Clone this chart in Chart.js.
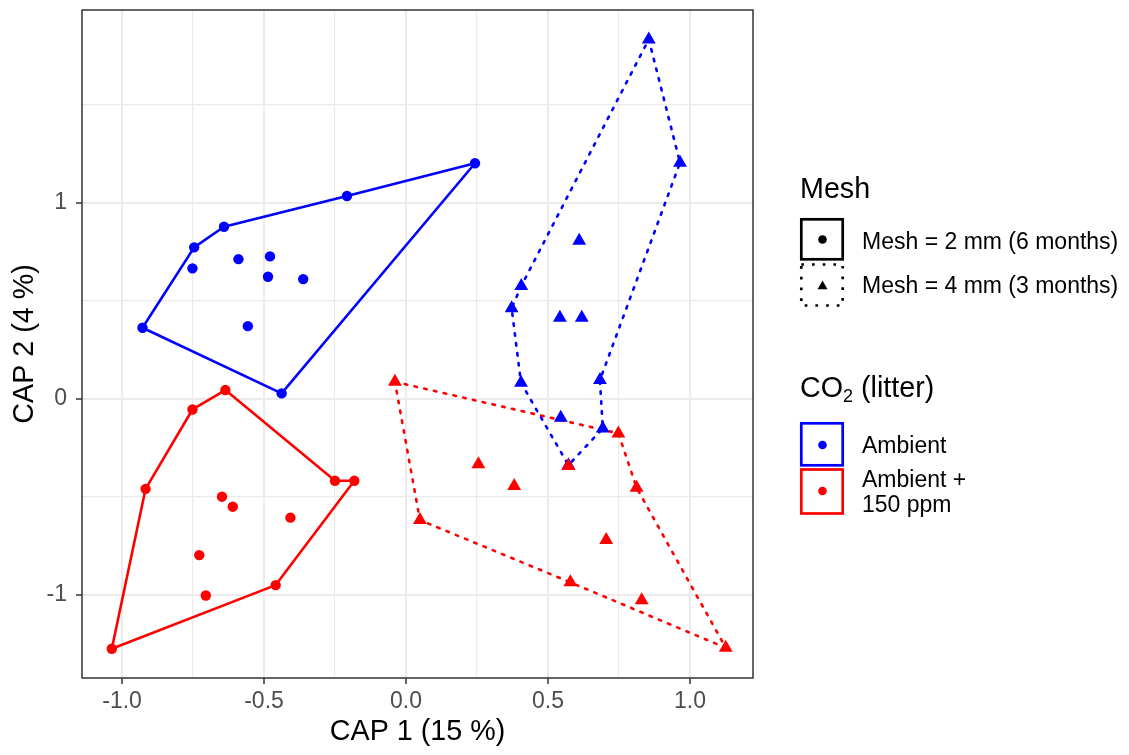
<!DOCTYPE html>
<html>
<head>
<meta charset="utf-8">
<script src="https://cdn.jsdelivr.net/npm/chart.js@4"></script>
<style>
html, body { margin: 0; padding: 0; background: #fff; }
#lienzo { position: relative; width: 1129px; height: 755px; }
#grafica, #leyenda { position: absolute; left: 0; top: 0; }
</style>
</head>
<body>
<div id="lienzo">
<canvas id="grafica" width="1129" height="755"></canvas>
<svg id="leyenda" width="1129" height="755" xmlns="http://www.w3.org/2000/svg">
  <g font-family="'Liberation Sans', Arial, sans-serif" fill="#000">
    <text x="800" y="198" font-size="28.7">Mesh</text>
    <rect x="801.3" y="219.3" width="41.4" height="40" fill="#fff" stroke="#000" stroke-width="2.7"/>
    <circle cx="822.5" cy="239.5" r="4.3"/>
    <rect x="801.3" y="264.5" width="41.4" height="41" fill="#fff" stroke="#000" stroke-width="2.7" stroke-dasharray="2.7 8"/>
    <polygon points="822.5,280.5 827.5,289.3 817.5,289.3"/>
    <text x="862" y="249" font-size="23">Mesh = 2 mm (6 months)</text>
    <text x="862" y="293" font-size="23">Mesh = 4 mm (3 months)</text>

    <text x="800" y="397" font-size="28.7">CO<tspan font-size="18" dy="5">2</tspan><tspan dy="-5"> (litter)</tspan></text>
    <rect x="801.3" y="423.3" width="41.4" height="42" fill="#fff" stroke="#0000FF" stroke-width="2.7"/>
    <circle cx="822.5" cy="445" r="4.3" fill="#0000FF"/>
    <rect x="801.3" y="469.5" width="41.4" height="44" fill="#fff" stroke="#FF0000" stroke-width="2.7"/>
    <circle cx="822.5" cy="491" r="4.3" fill="#FF0000"/>
    <text x="862" y="453" font-size="23">Ambient</text>
    <text x="862" y="487" font-size="23">Ambient +</text>
    <text x="862" y="512" font-size="23">150 ppm</text>
  </g>
</svg>
</div>
<script>
// Ejes
const ejeXMayores = [-1, -0.5, 0, 0.5, 1];
const ejeXMenores = [-0.75, -0.25, 0.25, 0.75];
const ejeXEtiquetas = ['-1.0', '-0.5', '0.0', '0.5', '1.0'];
const ejeYMayores = [-1, 0, 1];
const ejeYMenores = [-0.5, 0.5, 1.5];
const ejeYEtiquetas = ['-1', '0', '1'];

// Ambient, Mesh = 2 mm
const azulCirculoX = [0.243, -0.208, -0.641, -0.746, -0.928, -0.438, -0.752, -0.590, -0.479, -0.486, -0.362, -0.557];
const azulCirculoY = [1.203, 1.036, 0.879, 0.774, 0.364, 0.029, 0.667, 0.714, 0.728, 0.624, 0.612, 0.372];
const azulCirculoCasco = [0, 1, 2, 3, 4, 5];

// Ambient + 150 ppm, Mesh = 2 mm
const rojoCirculoX = [-0.636, -0.250, -0.182, -0.459, -1.036, -0.917, -0.752, -0.648, -0.610, -0.407, -0.728, -0.705];
const rojoCirculoY = [0.046, -0.417, -0.417, -0.949, -1.274, -0.458, -0.053, -0.498, -0.549, -0.605, -0.796, -1.002];
const rojoCirculoCasco = [0, 1, 2, 3, 4, 5, 6];

// Ambient, Mesh = 4 mm
const azulTrianguloX = [0.855, 0.965, 0.683, 0.693, 0.572, 0.405, 0.372, 0.406, 0.610, 0.542, 0.619, 0.545];
const azulTrianguloY = [1.835, 1.206, 0.097, -0.150, -0.337, 0.083, 0.463, 0.577, 0.808, 0.415, 0.415, -0.095];
const azulTrianguloCasco = [0, 1, 2, 3, 4, 5, 6, 7];

// Ambient + 150 ppm, Mesh = 4 mm
const rojoTrianguloX = [-0.039, 0.748, 0.812, 1.126, 0.579, 0.049, 0.255, 0.381, 0.572, 0.705, 0.830];
const rojoTrianguloY = [0.088, -0.175, -0.452, -1.269, -0.935, -0.617, -0.333, -0.444, -0.342, -0.719, -1.026];
const rojoTrianguloCasco = [0, 1, 2, 3, 4, 5];

const AZUL = '#0000FF';
const ROJO = '#FF0000';
const FUENTE = "'Liberation Sans', Arial, sans-serif";

const construirPuntos = (xs, ys) => xs.map((x, i) => ({ x, y: ys[i] }));

const construirCasco = (xs, ys, indices) => {
    const puntos = indices.map(i => ({ x: xs[i], y: ys[i] }));
    puntos.push(puntos[0]);
    return puntos;
};

const serieCasco = (datos, color, punteado) => ({
    data: datos,
    showLine: true,
    borderColor: color,
    borderWidth: 2.6,
    borderDash: punteado ? [2.6, 7.4] : [],
    borderCapStyle: punteado ? 'round' : 'butt',
    borderJoinStyle: 'round',
    pointRadius: 0,
    fill: false,
    tension: 0,
    order: 10
});

const seriePuntos = (datos, color, estilo, orden) => ({
    data: datos,
    showLine: false,
    pointStyle: estilo,
    pointRadius: estilo === 'triangle' ? 8 : 5.2,
    pointBackgroundColor: color,
    pointBorderWidth: 0,
    order: orden
});

const ticksDesde = (mayores, menores) => (escala) => {
    escala.ticks = [...mayores, ...menores].sort((a, b) => a - b).map(v => ({ value: v }));
};

const esMayor = (lista) => (ctx) => lista.includes(ctx.tick && ctx.tick.value);

const marcoPanel = {
    id: 'marcoPanel',
    afterDatasetsDraw(chart) {
        const { ctx, chartArea: { left, top, right, bottom } } = chart;
        ctx.save();
        ctx.strokeStyle = '#333333';
        ctx.lineWidth = 1.5;
        ctx.strokeRect(left, top, right - left, bottom - top);
        ctx.restore();
    }
};

const ctx = document.getElementById('grafica').getContext('2d');
new Chart(ctx, {
    type: 'scatter',
    data: {
        datasets: [
            serieCasco(construirCasco(azulCirculoX, azulCirculoY, azulCirculoCasco), AZUL, false),
            serieCasco(construirCasco(rojoCirculoX, rojoCirculoY, rojoCirculoCasco), ROJO, false),
            serieCasco(construirCasco(azulTrianguloX, azulTrianguloY, azulTrianguloCasco), AZUL, true),
            serieCasco(construirCasco(rojoTrianguloX, rojoTrianguloY, rojoTrianguloCasco), ROJO, true),
            seriePuntos(construirPuntos(azulCirculoX, azulCirculoY), AZUL, 'circle', 4),
            seriePuntos(construirPuntos(rojoCirculoX, rojoCirculoY), ROJO, 'circle', 3),
            seriePuntos(construirPuntos(azulTrianguloX, azulTrianguloY), AZUL, 'triangle', 2),
            seriePuntos(construirPuntos(rojoTrianguloX, rojoTrianguloY), ROJO, 'triangle', 1)
        ]
    },
    options: {
        responsive: false,
        animation: false,
        events: [],
        layout: { padding: { left: 0, top: 10, right: 376, bottom: 0 } },
        plugins: { legend: { display: false }, tooltip: { enabled: false } },
        scales: {
            x: {
                type: 'linear',
                min: -1.141,
                max: 1.222,
                afterBuildTicks: ticksDesde(ejeXMayores, ejeXMenores),
                afterFit: (escala) => {
                    escala.height = 77;
                    escala.paddingLeft = 0;
                    escala.paddingRight = 0;
                },
                ticks: {
                    autoSkip: false,
                    maxRotation: 0,
                    padding: 4,
                    color: '#4D4D4D',
                    font: { family: FUENTE, size: 23 },
                    callback: (v) => {
                        const i = ejeXMayores.indexOf(v);
                        return i >= 0 ? ejeXEtiquetas[i] : '';
                    }
                },
                grid: {
                    color: '#EBEBEB',
                    lineWidth: (c) => esMayor(ejeXMayores)(c) ? 2 : 1.2,
                    tickLength: 6,
                    tickWidth: 1.5,
                    tickColor: (c) => esMayor(ejeXMayores)(c) ? '#333333' : 'rgba(0,0,0,0)'
                },
                border: { display: false },
                title: {
                    display: true,
                    text: 'CAP 1 (15 %)',
                    color: '#000',
                    font: { family: FUENTE, size: 28.7 },
                    padding: { top: 0, bottom: 6 }
                }
            },
            y: {
                type: 'linear',
                min: -1.423,
                max: 1.985,
                afterBuildTicks: ticksDesde(ejeYMayores, ejeYMenores),
                afterFit: (escala) => {
                    escala.width = 82;
                    escala.paddingTop = 0;
                    escala.paddingBottom = 0;
                },
                ticks: {
                    autoSkip: false,
                    padding: 9,
                    color: '#4D4D4D',
                    font: { family: FUENTE, size: 23 },
                    callback: (v) => {
                        const i = ejeYMayores.indexOf(v);
                        return i >= 0 ? ejeYEtiquetas[i] : '';
                    }
                },
                grid: {
                    color: '#EBEBEB',
                    lineWidth: (c) => esMayor(ejeYMayores)(c) ? 2 : 1.2,
                    tickLength: 6,
                    tickWidth: 1.5,
                    tickColor: (c) => esMayor(ejeYMayores)(c) ? '#333333' : 'rgba(0,0,0,0)'
                },
                border: { display: false },
                title: {
                    display: true,
                    text: 'CAP 2 (4 %)',
                    color: '#000',
                    font: { family: FUENTE, size: 28.7 },
                    padding: { top: 8, bottom: 0 }
                }
            }
        }
    },
    plugins: [marcoPanel]
});
</script>
</body>
</html>
